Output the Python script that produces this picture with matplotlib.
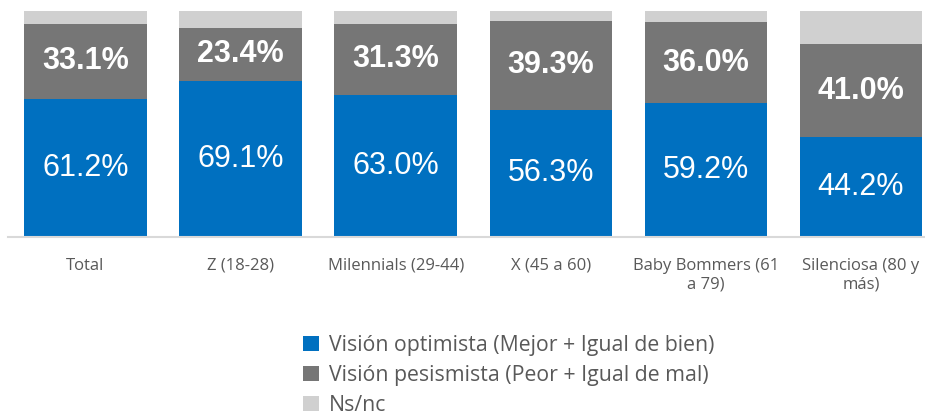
import matplotlib.pyplot as plt
import numpy as np

categorias = ['Total', 'Z (18-28)', 'Milennials (29-44)', 'X (45 a 60)',
              'Baby Bommers (61\na 79)', 'Silenciosa (80 y\nmás)']
optimista = [61.2, 69.1, 63.0, 56.3, 59.2, 44.2]
pesimista = [33.1, 23.4, 31.3, 39.3, 36.0, 41.0]
nsnc = [5.7, 7.5, 5.7, 4.4, 4.8, 14.8]

series = ['Visión optimista (Mejor + Igual de bien)',
          'Visión pesismista (Peor + Igual de mal)',
          'Ns/nc']
colores = ['#0070C0', '#767676', '#D0D0D0']

fig = plt.figure(figsize=(9.25, 4.15), dpi=100)
ax = fig.add_axes([8 / 925, 1 - 237 / 415, 1 - 8 / 925, 226 / 415])

x = np.arange(len(categorias))
w = 0.79
b1 = ax.bar(x, optimista, w, color=colores[0], label=series[0])
b2 = ax.bar(x, pesimista, w, bottom=optimista, color=colores[1], label=series[1])
b3 = ax.bar(x, nsnc, w, bottom=np.add(optimista, pesimista), color=colores[2], label=series[2])

for i in range(len(x)):
    ax.text(x[i], optimista[i] / 2, f'{optimista[i]:.1f}%', ha='center', va='center',
            color='white', fontsize=22, family='Liberation Sans')
    ax.text(x[i], optimista[i] + pesimista[i] / 2, f'{pesimista[i]:.1f}%', ha='center',
            va='center', color='white', fontsize=22, fontweight='bold', family='Liberation Sans')

ax.set_xlim(-0.5, (925 - 86) / 155)
ax.set_ylim(0, 100)
ax.set_yticks([])
ax.set_xticks(x)
ax.set_xticklabels(categorias, fontsize=12, color='#595959', family='Open Sans', linespacing=1.25)
ax.tick_params(axis='x', length=0, pad=15)
for s in ['top', 'right', 'left']:
    ax.spines[s].set_visible(False)
ax.spines['bottom'].set_color('#D9D9D9')
ax.spines['bottom'].set_linewidth(1.5)

leg = fig.legend(handles=[b1, b2, b3], loc='upper left', bbox_to_anchor=(284 / 925, 1 - 316 / 415),
                 frameon=False, handlelength=0.75, handleheight=0.75,
                 handletextpad=0.45, labelspacing=0.42, prop={'family': 'Open Sans', 'size': 15.3})
for t in leg.get_texts():
    t.set_color('#595959')

fig.savefig('out.png', dpi=100)
